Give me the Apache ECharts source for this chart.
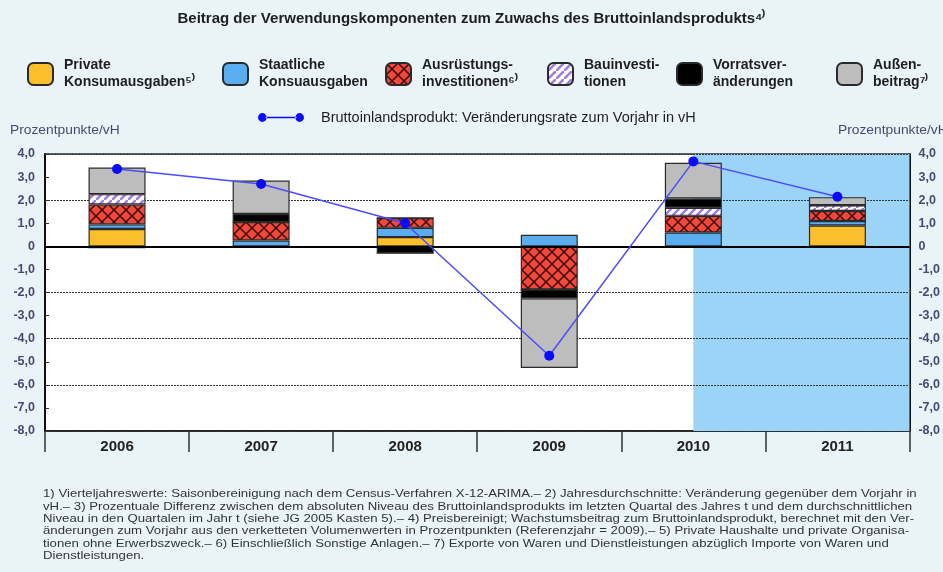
<!DOCTYPE html>
<html>
<head>
<meta charset="utf-8">
<script src="https://cdn.jsdelivr.net/npm/echarts@6/dist/echarts.min.js"></script>
<style>
html,body{margin:0;padding:0;background:#eaf4f8;}
#chart{width:943px;height:572px;}
</style>
</head>
<body>
<div id="chart"></div>
<script>
// ---- Data ----
const years = ['2006', '2007', '2008', '2009', '2010', '2011'];
const privateKonsum = [0.75, -0.05, 0.4, 0, 0, 0.9];
const staatKonsum = [0.2, 0.25, 0.4, 0.5, 0.6, 0.2];
const ausruestung = [0.86, 0.8, 0.43, -1.87, 0.72, 0.43];
const bauinvest = [0.45, 0, 0, 0, 0.35, 0.25];
const vorrat = [-0.08, 0.35, -0.3, -0.38, 0.4, 0];
const aussenbeitrag = [1.15, 1.45, 0, -3.02, 1.55, 0.35];
const bip = [3.35, 2.7, 1.0, -4.74, 3.68, 2.15];
const yTicks = {min: -8, max: 4, step: 1};
const forecastStart = '2010';

const titleText = 'Beitrag der Verwendungskomponenten zum Zuwachs des Bruttoinlandsprodukts⁴⁾';
const axisTitle = 'Prozentpunkte/vH';
const names = {
  priv: 'Private\nKonsumausgaben⁵⁾',
  staat: 'Staatliche\nKonsuausgaben',
  ausr: 'Ausrüstungs-\ninvestitionen⁶⁾',
  bau: 'Bauinvesti-\ntionen',
  vorr: 'Vorratsver-\nänderungen',
  auss: 'Außen-\nbeitrag⁷⁾',
  bip: 'Bruttoinlandsprodukt: Veränderungsrate zum Vorjahr in vH'
};
const footnoteLines = [
  '1) Vierteljahreswerte: Saisonbereinigung nach dem Census-Verfahren X-12-ARIMA.– 2) Jahresdurchschnitte: Veränderung gegenüber dem Vorjahr in',
  'vH.– 3) Prozentuale Differenz zwischen dem absoluten Niveau des Bruttoinlandsprodukts im letzten Quartal des Jahres t und dem durchschnittlichen',
  'Niveau in den Quartalen im Jahr t (siehe JG 2005 Kasten 5).– 4) Preisbereinigt; Wachstumsbeitrag zum Bruttoinlandsprodukt, berechnet mit den Ver-',
  'änderungen zum Vorjahr aus den verketteten Volumenwerten in Prozentpunkten (Referenzjahr = 2009).– 5) Private Haushalte und private Organisa-',
  'tionen ohne Erwerbszweck.– 6) Einschließlich Sonstige Anlagen.– 7) Exporte von Waren und Dienstleistungen abzüglich Importe von Waren und',
  'Dienstleistungen.'
];

// ---- Patterns ----
function redPattern() {
  const s = 12, c = document.createElement('canvas');
  c.width = s; c.height = s;
  const g = c.getContext('2d');
  g.fillStyle = '#f2483c'; g.fillRect(0, 0, s, s);
  g.strokeStyle = '#3a0c08'; g.lineWidth = 1.5;
  g.beginPath();
  g.moveTo(0, 0); g.lineTo(s, s);
  g.moveTo(s, 0); g.lineTo(0, s);
  g.stroke();
  return c;
}
function hatchPattern() {
  const s = 8, c = document.createElement('canvas');
  c.width = s; c.height = s;
  const g = c.getContext('2d');
  g.fillStyle = '#ffffff'; g.fillRect(0, 0, s, s);
  g.strokeStyle = '#a27ddf'; g.lineWidth = 2.6;
  g.beginPath();
  g.moveTo(-2, s + 2); g.lineTo(s + 2, -2);
  g.moveTo(-2 - s, 2); g.lineTo(2, -2);
  g.moveTo(s - 2, s + 2); g.lineTo(2 * s + 2, s - 2);
  g.stroke();
  return c;
}

const FONT = 'Liberation Sans, Arial, sans-serif';
const fmt = v => v === 0 ? '0' : v.toFixed(1).replace('.', ',');
const border = {borderColor: '#2a2a2a', borderWidth: 1.2};

function barSeries(name, data, color) {
  return {
    name: name, type: 'bar', stack: 'total', data: data,
    barWidth: 57,
    itemStyle: Object.assign({color: color}, border),
    emphasis: {disabled: true}
  };
}

const legendPos = [
  ['priv', 27], ['staat', 222], ['ausr', 385], ['bau', 547], ['vorr', 676], ['auss', 836]
];
const legends = legendPos.map(([k, x]) => ({
  data: [names[k]], left: x, top: 57, padding: 0, icon: 'roundRect',
  itemWidth: 25, itemHeight: 22, selectedMode: false,
  textStyle: {fontSize: 14, fontWeight: 'bold', color: '#1e1e1e', lineHeight: 17, padding: [0, 0, 0, 6], fontFamily: FONT}
}));
legends.push({
  data: [names.bip], left: 258, top: 110, padding: 0, selectedMode: false,
  icon: 'path://M0,4a4,4 0 1,0 8,0a4,4 0 1,0 -8,0Z M7,3.3H35V4.7H7Z M34,4a4,4 0 1,0 8,0a4,4 0 1,0 -8,0Z',
  itemWidth: 46, itemHeight: 9,
  textStyle: {fontSize: 14.5, color: '#1e1e1e', padding: [0, 0, 0, 12], fontFamily: FONT}
});

const chart = echarts.init(document.getElementById('chart'), null, {renderer: 'canvas'});
const option = {
  backgroundColor: '#eaf4f8',
  animation: false,
  textStyle: {fontFamily: FONT},
  title: {
    text: titleText, left: 'center', top: 6,
    textStyle: {fontSize: 15, fontWeight: 'bold', color: '#1e1e1e', fontFamily: FONT}
  },
  legend: legends,
  grid: {
    left: 45, right: 30, top: 154, bottom: 141,
    show: true, backgroundColor: '#ffffff', borderColor: '#333', borderWidth: 1.5
  },
  xAxis: {
    type: 'category', data: years, position: 'bottom',
    axisLine: {onZero: false, lineStyle: {color: '#222', width: 2}},
    axisTick: {show: true, length: 21, lineStyle: {color: '#333', width: 1.5}},
    axisLabel: {fontSize: 15, fontWeight: 'bold', color: '#222', margin: 8},
    splitLine: {show: false}
  },
  yAxis: [
    {
      type: 'value', position: 'left', min: yTicks.min, max: yTicks.max, interval: yTicks.step,
      axisLine: {show: true, lineStyle: {color: '#111', width: 2}},
      axisTick: {show: true, inside: true, length: 4, lineStyle: {color: '#333'}},
      axisLabel: {formatter: fmt, fontSize: 12.5, fontWeight: 'bold', color: '#4a4872', margin: 10},
      splitLine: {show: false}
    },
    {
      type: 'value', position: 'right', min: yTicks.min, max: yTicks.max, interval: yTicks.step,
      axisLine: {show: true, lineStyle: {color: '#111', width: 2}},
      axisTick: {show: true, inside: true, length: 4, lineStyle: {color: '#333'}},
      axisLabel: {formatter: fmt, fontSize: 12.5, fontWeight: 'bold', color: '#4a4872', margin: 9},
      splitLine: {show: false}
    },
    {
      type: 'value', position: 'left', min: yTicks.min, max: yTicks.max, interval: 2 * yTicks.step,
      z: 1.5,
      axisLine: {show: false}, axisTick: {show: false}, axisLabel: {show: false},
      splitLine: {show: true, lineStyle: {color: '#333', width: 1, type: [2, 1]}}
    }
  ],
  graphic: [
    {type: 'text', left: 10, top: 125, scaleX: 1.15, style: {text: axisTitle, fill: '#4a4872', font: '12px ' + FONT}},
    {type: 'text', left: 838, top: 125, scaleX: 1.15, style: {text: axisTitle, fill: '#4a4872', font: '12px ' + FONT}},
    {type: 'text', left: 43, top: 488, scaleX: 1.2, style: {text: footnoteLines.join('\n'), font: '11px ' + FONT, fill: '#333', lineHeight: 12.4}}
  ],
  series: [
    Object.assign(barSeries(names.priv, privateKonsum, '#fbbf2b'), {
      markArea: {
        silent: true, z: 1,
        itemStyle: {color: '#9bd4f7'},
        data: []
      },
      markLine: {
        silent: true, symbol: 'none', z: 4,
        label: {show: false},
        lineStyle: {color: '#000', width: 2, type: 'solid'},
        data: [{yAxis: 0}]
      }
    }),
    barSeries(names.staat, staatKonsum, '#5aaef0'),
    barSeries(names.ausr, ausruestung, {image: redPattern(), repeat: 'repeat'}),
    barSeries(names.bau, bauinvest, {image: hatchPattern(), repeat: 'repeat'}),
    barSeries(names.vorr, vorrat, '#000000'),
    barSeries(names.auss, aussenbeitrag, '#bdbdbd'),
    {
      name: names.bip, type: 'line', data: bip, z: 6,
      symbol: 'circle', symbolSize: 10,
      lineStyle: {color: '#4b4bff', width: 1.5},
      itemStyle: {color: '#0a0aff'},
      emphasis: {disabled: true}
    }
  ]
};
chart.setOption(option);

// Shaded forecast region: from the centre of the forecast start category to the right end of the axis
const xs = chart.convertToPixel({xAxisIndex: 0}, forecastStart);
const xLast = chart.convertToPixel({xAxisIndex: 0}, years[years.length - 1]);
const xPrev = chart.convertToPixel({xAxisIndex: 0}, years[years.length - 2]);
const xe = xLast + (xLast - xPrev) / 2;
const yt = chart.convertToPixel({yAxisIndex: 0}, yTicks.max);
const yb = chart.convertToPixel({yAxisIndex: 0}, yTicks.min);
chart.setOption({series: [{markArea: {data: [[{x: xs, y: yt}, {x: xe, y: yb}]]}}]});
</script>
</body>
</html>
